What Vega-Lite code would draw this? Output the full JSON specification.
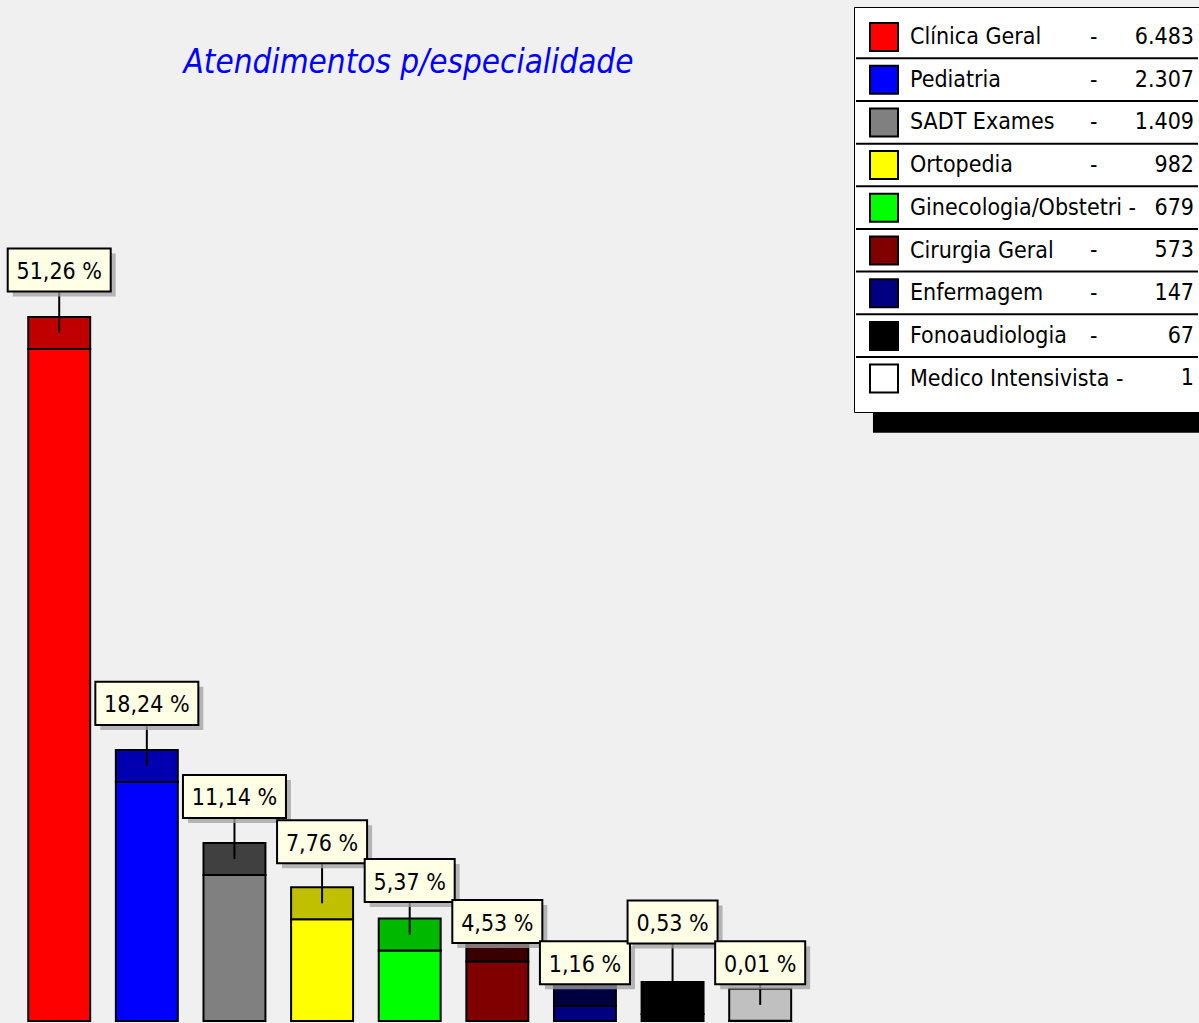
{
  "$schema": "https://vega.github.io/schema/vega-lite/v6.json",
  "width": 1199,
  "height": 1023,
  "padding": 0,
  "autosize": {"type": "none"},
  "background": "#F0F0F0",
  "title": {
    "text": "Atendimentos p/especialidade",
    "anchor": "middle",
    "frame": "group",
    "dx": -191,
    "offset": -106,
    "baseline": "alphabetic",
    "font": "DejaVu Sans Condensed",
    "fontSize": 33,
    "fontStyle": "italic",
    "fontWeight": "normal",
    "color": "#0000FF"
  },
  "config": {
    "view": {"stroke": null},
    "locale": {
      "number": {"decimal": ",", "thousands": ".", "grouping": [3], "currency": ["R$", ""], "percent": " %"}
    }
  },
  "data": {
    "values": [
      {"esp": "Clínica Geral", "n": 6483, "pct": 0.5126},
      {"esp": "Pediatria", "n": 2307, "pct": 0.1824},
      {"esp": "SADT Exames", "n": 1409, "pct": 0.1114},
      {"esp": "Ortopedia", "n": 982, "pct": 0.0776},
      {"esp": "Ginecologia/Obstetri", "n": 679, "pct": 0.0537},
      {"esp": "Cirurgia Geral", "n": 573, "pct": 0.0453},
      {"esp": "Enfermagem", "n": 147, "pct": 0.0116},
      {"esp": "Fonoaudiologia", "n": 67, "pct": 0.0053},
      {"esp": "Medico Intensivista", "n": 1, "pct": 0.0001}
    ]
  },
  "encoding": {
    "x": {
      "field": "esp",
      "type": "nominal",
      "sort": null,
      "axis": null,
      "scale": {
        "type": "band",
        "domain": ["Clínica Geral", "Pediatria", "SADT Exames", "Ortopedia", "Ginecologia/Obstetri", "Cirurgia Geral", "Enfermagem", "Fonoaudiologia", "Medico Intensivista"],
        "range": [15.4, 804],
        "paddingInner": 0.293,
        "paddingOuter": 0.1465
      }
    },
    "y": {
      "field": "pct",
      "type": "quantitative",
      "axis": null,
      "scale": {"domain": [0, 0.7788], "range": [1021, 0], "nice": false, "zero": true}
    }
  },
  "layer": [
    {
      "mark": {"type": "bar", "stroke": "black", "strokeWidth": 2},
      "encoding": {
        "color": {
          "field": "esp",
          "type": "nominal",
          "scale": {
            "domain": ["Clínica Geral", "Pediatria", "SADT Exames", "Ortopedia", "Ginecologia/Obstetri", "Cirurgia Geral", "Enfermagem", "Fonoaudiologia", "Medico Intensivista"],
            "range": ["#FF0000", "#0000FF", "#808080", "#FFFF00", "#00FF00", "#800000", "#000080", "#000000", "#FFFFFF"]
          },
          "legend": {
            "title": null,
            "orient": "none",
            "legendX": 854,
            "legendY": 7,
            "padding": 15,
            "rowPadding": 6.7,
            "symbolSize": 784,
            "symbolType": "M-1,-1H1V1H-1Z M21.4,0",
            "symbolStrokeColor": "black",
            "symbolStrokeWidth": 2,
            "labelFont": "DejaVu Sans Condensed",
            "labelFontSize": 23,
            "labelColor": "black",
            "labelOffset": 11,
            "labelLimit": 400,
            "labelExpr": "datum.label + ((datum.label == 'Ginecologia/Obstetri' || datum.label == 'Medico Intensivista') ? ' -' : '')",
            "strokeColor": "black",
            "fillColor": "white",
            "zindex": 1
          }
        }
      }
    },
    {
      "mark": {"type": "bar", "stroke": "black", "strokeWidth": 2, "yOffset": -32},
      "encoding": {
        "y2": {"field": "pct"},
        "fill": {
          "field": "esp",
          "type": "nominal",
          "scale": {
            "domain": ["Clínica Geral", "Pediatria", "SADT Exames", "Ortopedia", "Ginecologia/Obstetri", "Cirurgia Geral", "Enfermagem", "Fonoaudiologia", "Medico Intensivista"],
            "range": ["#C00000", "#0000B0", "#404040", "#C0C000", "#00B800", "#380000", "#000040", "#000000", "#C0C0C0"]
          },
          "legend": null
        }
      }
    },
    {
      "mark": {
        "type": "rule",
        "stroke": "black",
        "strokeWidth": 2,
        "yOffset": {"expr": "[-79,-78.5,-78.5,-77.5,-70,-40,-43,-92,-58][indexof(['Clínica Geral','Pediatria','SADT Exames','Ortopedia','Ginecologia/Obstetri','Cirurgia Geral','Enfermagem','Fonoaudiologia','Medico Intensivista'], datum.esp)]"},
        "y2Offset": -16
      },
      "encoding": {"y2": {"field": "pct"}}
    },
    {
      "mark": {
        "type": "point",
        "filled": true,
        "fill": "#A0A0A0",
        "opacity": 0.75,
        "strokeWidth": 0,
        "size": 10609,
        "xOffset": 5,
        "yOffset": {"expr": "5 + [-79,-78.5,-78.5,-77.5,-70,-40,-43,-92,-58][indexof(['Clínica Geral','Pediatria','SADT Exames','Ortopedia','Ginecologia/Obstetri','Cirurgia Geral','Enfermagem','Fonoaudiologia','Medico Intensivista'], datum.esp)]"}
      },
      "encoding": {
        "shape": {
          "condition": {"test": "datum.pct >= 0.1", "value": "M-1,-0.4175H1V0.4175H-1Z"},
          "value": "M-0.874,-0.4175H0.874V0.4175H-0.874Z"
        }
      }
    },
    {
      "mark": {
        "type": "point",
        "filled": true,
        "fill": "#FFFFE6",
        "opacity": 1,
        "stroke": "black",
        "strokeWidth": 2,
        "size": 10609,
        "yOffset": {"expr": "[-79,-78.5,-78.5,-77.5,-70,-40,-43,-92,-58][indexof(['Clínica Geral','Pediatria','SADT Exames','Ortopedia','Ginecologia/Obstetri','Cirurgia Geral','Enfermagem','Fonoaudiologia','Medico Intensivista'], datum.esp)]"}
      },
      "encoding": {
        "shape": {
          "condition": {"test": "datum.pct >= 0.1", "value": "M-1,-0.4175H1V0.4175H-1Z"},
          "value": "M-0.874,-0.4175H0.874V0.4175H-0.874Z"
        }
      }
    },
    {
      "mark": {
        "type": "text",
        "font": "DejaVu Sans Condensed",
        "fontSize": 23,
        "baseline": "middle",
        "align": "center",
        "color": "black",
        "yOffset": {"expr": "2 + [-79,-78.5,-78.5,-77.5,-70,-40,-43,-92,-58][indexof(['Clínica Geral','Pediatria','SADT Exames','Ortopedia','Ginecologia/Obstetri','Cirurgia Geral','Enfermagem','Fonoaudiologia','Medico Intensivista'], datum.esp)]"}
      },
      "encoding": {
        "text": {"field": "pct", "type": "quantitative", "format": ".2%"}
      }
    },
    {
      "mark": {"type": "point", "opacity": 0},
      "encoding": {
        "shape": {
          "field": "n",
          "type": "ordinal",
          "sort": "descending",
          "scale": {
            "range": [
              "M-23.07,1.525H1.357 M0,-1",
              "M-23.07,1.525H1.357 M0,-1",
              "M-23.07,1.525H1.357 M0,-1",
              "M-23.07,1.525H1.357 M0,-1",
              "M-23.07,1.525H1.357 M0,-1",
              "M-23.07,1.525H1.357 M0,-1",
              "M-23.07,1.525H1.357 M0,-1",
              "M-23.07,1.525H1.357 M0,-1",
              "M-21.86,2.53H2.3 M-21.86,2.6H2.3 M-21.86,2.673H2.3 M-21.86,2.745H2.3 M-21.86,2.816H2.3 M-21.86,2.888H2.3 M-21.86,2.959H2.3 M-21.86,3.03H2.3 M-21.86,3.102H2.3 M-21.86,3.173H2.3 M-21.86,3.245H2.3 M-21.86,3.316H2.3 M-21.86,3.388H2.3 M-21.86,3.46H2.3 M-21.86,3.531H2.3 M-21.86,3.6H2.3 M-21.86,3.674H2.3 M-21.86,3.745H2.3 M-21.86,3.817H2.3 M0,-1"
            ]
          },
          "legend": {
            "title": null,
            "orient": "none",
            "legendX": 1149,
            "legendY": 7,
            "padding": 15,
            "rowPadding": -1.35,
            "symbolSize": 784,
            "symbolOpacity": 1,
            "symbolStrokeColor": "black",
            "symbolStrokeWidth": 2,
            "symbolFillColor": "transparent",
            "labelAlign": "right",
            "labelOffset": 0,
            "labelFont": "DejaVu Sans Condensed",
            "labelFontSize": 23,
            "labelColor": "black",
            "labelExpr": "format(datum.value, ',d')",
            "zindex": 2
          }
        },
        "strokeDash": {
          "field": "pct",
          "type": "ordinal",
          "sort": "descending",
          "legend": {
            "title": null,
            "orient": "none",
            "legendX": 1045,
            "legendY": 7,
            "padding": 15,
            "rowPadding": -1.35,
            "symbolSize": 784,
            "symbolType": "M-1,1.525H1 M0,-1",
            "symbolOpacity": 0.001,
            "symbolStrokeColor": "black",
            "symbolFillColor": "transparent",
            "symbolStrokeWidth": 2,
            "symbolDash": [],
            "labelOffset": 0,
            "labelFont": "DejaVu Sans Condensed",
            "labelFontSize": 23,
            "labelColor": "black",
            "labelExpr": "(datum.value == 0.0537 || datum.value == 0.0001) ? '' : '-'",
            "zindex": 2
          }
        }
      }
    }
  ]
}
